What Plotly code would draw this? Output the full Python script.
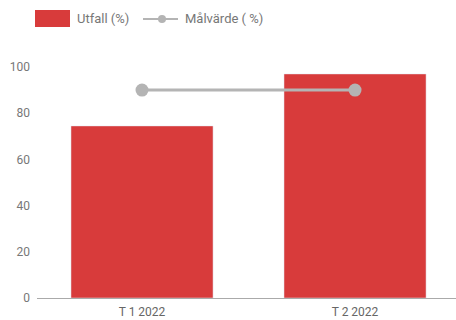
import plotly.graph_objects as go

periods = ["T 1 2022", "T 2 2022"]
utfall = [74.5, 97]
malvarde = [90, 90]
series_names = ["Utfall (%)", "Målvärde ( %)"]

red = "#d83b3b"
grey = "#b4b4b4"
text_grey = "#777777"

fig = go.Figure()
fig.add_trace(go.Bar(x=periods, y=utfall, name=series_names[0], marker_color=red))
fig.add_trace(go.Scatter(x=periods, y=malvarde, name=series_names[1], mode="lines+markers",
                         line=dict(color=grey, width=3), marker=dict(color=grey, size=13)))

# plot area in pixels: x 37..456, y 67..298 -> helpers to place the legend
def px(x):
    return (x - 37) / 419

def py(y):
    return (298 - y) / 231

# hand-drawn legend: big red swatch, grey line with dot
fig.add_shape(type="rect", xref="paper", yref="paper", x0=px(35), x1=px(70), y0=py(27), y1=py(10),
              fillcolor=red, line=dict(width=0))
fig.add_shape(type="line", xref="paper", yref="paper", x0=px(143), x1=px(178), y0=py(19), y1=py(19),
              line=dict(color=grey, width=2))
fig.add_shape(type="circle", xref="paper", yref="paper", x0=px(158), x1=px(166), y0=py(23), y1=py(15),
              fillcolor=grey, line=dict(width=0))
fig.add_annotation(text=series_names[0], xref="paper", yref="paper", x=px(75), y=py(19),
                   xanchor="left", yanchor="middle", showarrow=False, font=dict(size=13, color=text_grey))
fig.add_annotation(text=series_names[1], xref="paper", yref="paper", x=px(183), y=py(19),
                   xanchor="left", yanchor="middle", showarrow=False, font=dict(size=13, color=text_grey))

fig.update_layout(
    width=456, height=320,
    margin=dict(l=37, r=0, t=67, b=22),
    paper_bgcolor="white", plot_bgcolor="white",
    font=dict(family="Roboto", size=12, color=text_grey),
    bargap=0.333,
    showlegend=False,
)
fig.update_xaxes(range=[-0.493, 1.474], showgrid=False, showline=True, linecolor="#aaaaaa",
                 linewidth=1, ticks="", ticklabelstandoff=3, tickfont=dict(size=12, color="#666666"))
fig.update_yaxes(range=[0, 100], dtick=20, showgrid=False, zeroline=False, showline=False,
                 ticks="", ticklabelstandoff=6, tickfont=dict(size=12, color=text_grey))

# page body has a default 8px margin; drop it so the figure fills the window
fig.write_html("out.html", config={"displayModeBar": False},
               post_script="document.body.style.margin='0';")
